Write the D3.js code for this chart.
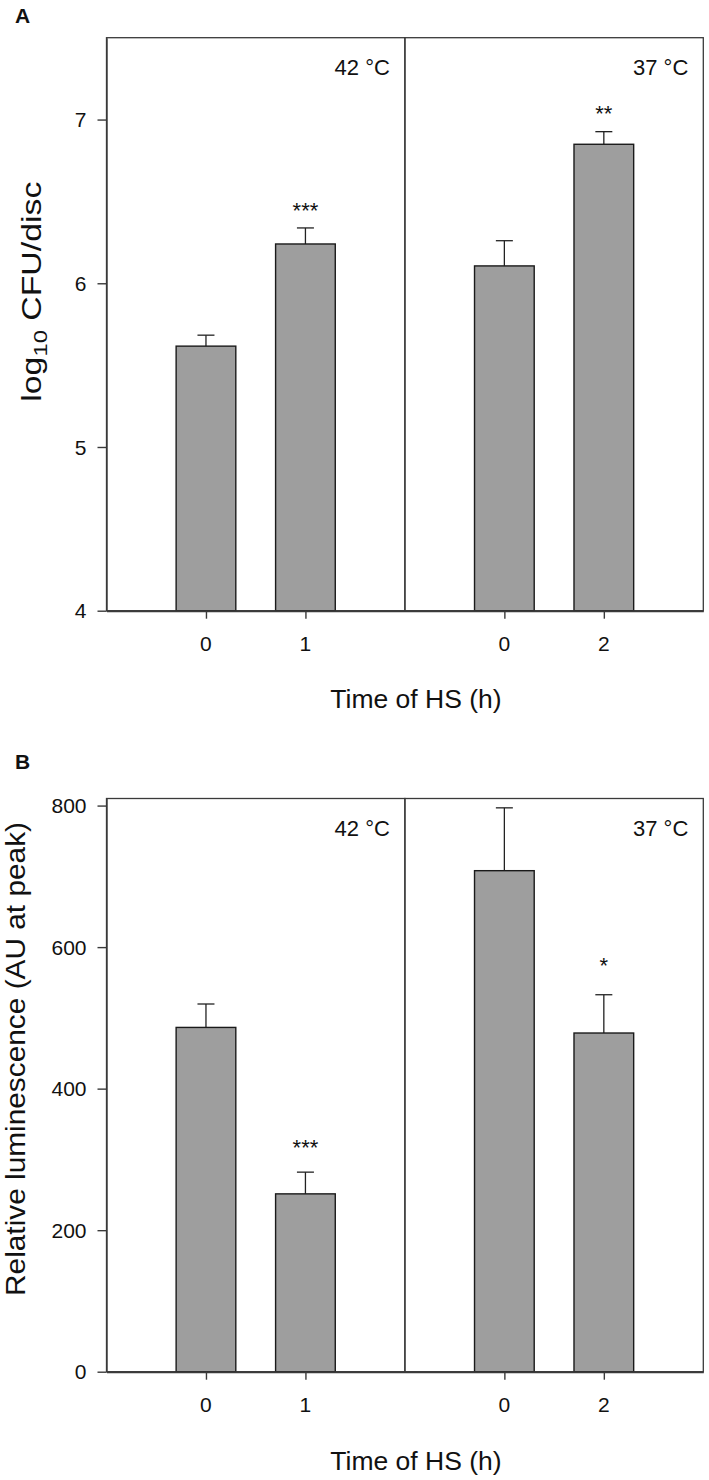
<!DOCTYPE html>
<html>
<head>
<meta charset="utf-8">
<script src="https://cdn.jsdelivr.net/npm/d3@7"></script>
<style>
  html, body { margin: 0; padding: 0; background: #fff; }
  svg { display: block; }
  text { font-family: "Liberation Sans", Arial, Helvetica, sans-serif; fill: #111; }
</style>
</head>
<body>
<svg id="chart" width="709" height="1480"></svg>
<script>
// ---------- data ----------
const timeLabels = ["0", "1", "0", "2"];
const tempGroups = ["42 °C", "42 °C", "37 °C", "37 °C"];
const groupNames = ["42 °C", "37 °C"];

// Panel A: log10 CFU/disc
const cfuMean = [5.616, 6.24, 6.106, 6.849];
const cfuErr  = [0.067, 0.098, 0.154, 0.077];
const cfuSig  = ["", "***", "", "**"];
const cfuSigAt = [null, 6.468, null, 7.059];
const cfuTicks = [4, 5, 6, 7];

// Panel B: Relative luminescence
const lumMean = [486.5, 251.3, 708, 478.6];
const lumErr  = [33.1, 30.7, 88.8, 54.1];
const lumSig  = ["", "***", "", "*"];
const lumSigAt = [null, 323, null, 580];
const lumTicks = [0, 200, 400, 600, 800];

const xTitle = "Time of HS (h)";

// ---------- drawing ----------
const svg = d3.select("#chart");
const LEFT = 106.5, RIGHT = 703.3;
const lineCol = "#3a3a3a";

function drawPanel(cfg) {
  const g = svg.append("g");
  const x = d3.scaleLinear().domain([0, 6]).range([LEFT, RIGHT]);
  const y = d3.scaleLinear().domain(cfg.domain).range([cfg.bottom, cfg.top]);
  const slot = i => {
    const gi = groupNames.indexOf(tempGroups[i]);
    const within = tempGroups.slice(0, i).filter(t => t === tempGroups[i]).length;
    return gi * 3 + within + 1;
  };
  const bw = x(0.6) - x(0);

  groupNames.forEach((name, gi) => {
    g.append("rect")
      .attr("x", x(gi * 3)).attr("y", y(cfg.domain[1]))
      .attr("width", x(3) - x(0)).attr("height", y(cfg.domain[0]) - y(cfg.domain[1]))
      .attr("fill", "none").attr("stroke", lineCol).attr("stroke-width", 1.3);
    g.append("text")
      .attr("x", x(gi * 3 + 3) - 15).attr("y", y(cfg.domain[1]) + 37)
      .attr("text-anchor", "end").attr("font-size", 22)
      .text(name);
  });

  cfg.mean.forEach((m, i) => {
    const cx = x(slot(i));
    g.append("line")
      .attr("x1", cx).attr("x2", cx)
      .attr("y1", y(m)).attr("y2", y(m + cfg.err[i]))
      .attr("stroke", "#222").attr("stroke-width", 1.3);
    g.append("line")
      .attr("x1", cx - 8.5).attr("x2", cx + 8.5)
      .attr("y1", y(m + cfg.err[i])).attr("y2", y(m + cfg.err[i]))
      .attr("stroke", "#222").attr("stroke-width", 1.3);
    g.append("rect")
      .attr("x", cx - bw / 2).attr("y", y(m))
      .attr("width", bw).attr("height", y(cfg.domain[0]) - y(m))
      .attr("fill", "#9e9e9e").attr("stroke", "#1a1a1a").attr("stroke-width", 1.4);
    if (cfg.sig[i]) {
      g.append("text")
        .attr("x", cx).attr("y", y(cfg.sigAt[i]))
        .attr("dy", "0.52em")
        .attr("text-anchor", "middle").attr("font-size", 22)
        .text(cfg.sig[i]);
    }
  });

  // y axis (lines from d3 axis, labels drawn explicitly)
  const ya = g.append("g").attr("transform", `translate(${LEFT},0)`)
    .call(d3.axisLeft(y).tickValues(cfg.ticks).tickSize(9).tickSizeOuter(0).tickFormat(""));
  ya.select(".domain").attr("stroke", lineCol).attr("stroke-width", 1.4);
  ya.selectAll(".tick line").attr("stroke", lineCol).attr("stroke-width", 1.4);
  g.selectAll(null).data(cfg.ticks).join("text")
    .attr("x", LEFT - 20).attr("y", d => y(d)).attr("dy", "0.36em")
    .attr("text-anchor", "end").attr("font-size", 21)
    .text(d3.format("d"));

  // x axis
  const ticksX = cfg.mean.map((_, i) => slot(i));
  const xa = g.append("g").attr("transform", `translate(0,${cfg.bottom})`)
    .call(d3.axisBottom(x).tickValues(ticksX).tickFormat("").tickSize(8).tickSizeOuter(0));
  xa.select(".domain").attr("stroke", lineCol).attr("stroke-width", 2);
  xa.selectAll(".tick line").attr("stroke", lineCol).attr("stroke-width", 1.4);
  g.selectAll(null).data(ticksX).join("text")
    .attr("x", d => x(d)).attr("y", cfg.bottom + 40)
    .attr("text-anchor", "middle").attr("font-size", 21)
    .text((d, k) => timeLabels[k]);

  g.append("text").attr("x", 416).attr("y", cfg.bottom + cfg.xTitleOff)
    .attr("text-anchor", "middle").attr("font-size", 26.5).text(xTitle);

  g.append("text").attr("x", 15).attr("y", cfg.panelY)
    .attr("font-size", 21).attr("font-weight", "bold").text(cfg.panel);

  return { g, x, y };
}

const A = drawPanel({
  top: 37.7, bottom: 610.7, domain: [4, 7.5], ticks: cfuTicks,
  mean: cfuMean, err: cfuErr, sig: cfuSig, sigAt: cfuSigAt,
  xTitleOff: 97.6, panel: "A", panelY: 23.3
});
const yLabA = A.g.append("text")
  .attr("transform", "translate(41,291.7) rotate(-90)")
  .attr("text-anchor", "middle").attr("font-size", 27)
  .attr("textLength", 220).attr("lengthAdjust", "spacingAndGlyphs");
yLabA.append("tspan").text("log");
yLabA.append("tspan").attr("font-size", 19).attr("dy", 6).text("10");
yLabA.append("tspan").attr("dy", -6).text(" CFU/disc");

const B = drawPanel({
  top: 798.5, bottom: 1371.7, domain: [0, 810], ticks: lumTicks,
  mean: lumMean, err: lumErr, sig: lumSig, sigAt: lumSigAt,
  xTitleOff: 98.3, panel: "B", panelY: 768.5
});
B.g.append("text")
  .attr("transform", "translate(25,1059) rotate(-90)")
  .attr("text-anchor", "middle").attr("font-size", 27)
  .attr("textLength", 474).attr("lengthAdjust", "spacingAndGlyphs")
  .text("Relative luminescence (AU at peak)");
</script>
</body>
</html>
